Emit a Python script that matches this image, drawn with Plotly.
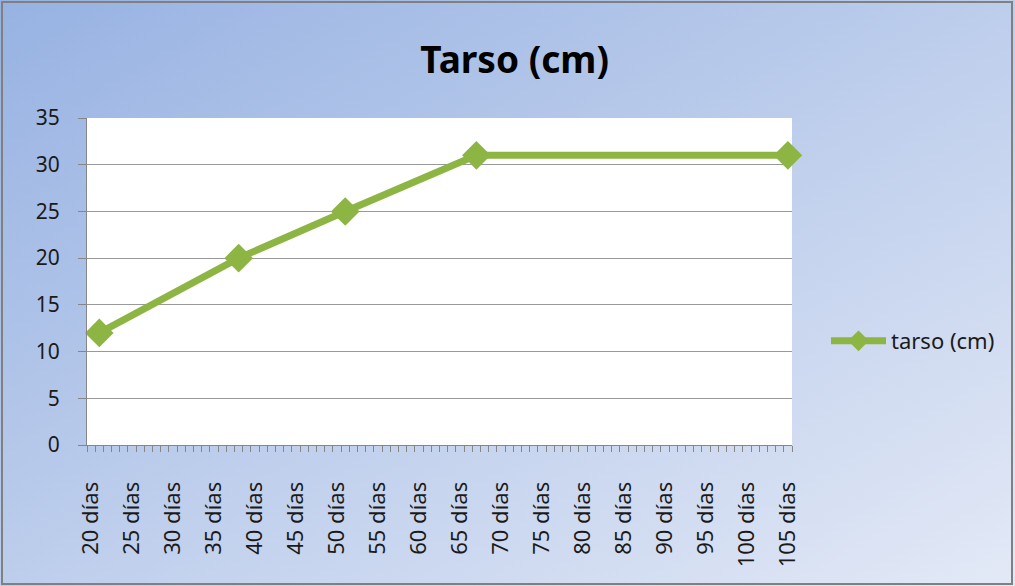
import base64
import plotly.graph_objects as go

# data
dias = [21, 38, 51, 67, 105]
tarso = [12, 20, 25, 31, 31]
serie = "tarso (cm)"
label_dias = list(range(20, 106, 5))
label_text = [f"{d} días" for d in label_dias]
y_ticks = [0, 5, 10, 15, 20, 25, 30, 35]

W, H = 1015, 586
L, R, T, B = 87, 223, 118, 141
pw, ph = W - L - R, H - T - B

def px(x):
    return (x - L) / pw

def py(y):
    return (H - B - y) / ph

green = "#8db543"
font = "Noto Sans"

svg = (
    '<svg xmlns="http://www.w3.org/2000/svg" width="100" height="100" preserveAspectRatio="none" viewBox="0 0 100 100">'
    '<defs><linearGradient id="g" x1="0" y1="0" x2="1" y2="1">'
    '<stop offset="0" stop-color="#97b2e2"/><stop offset="1" stop-color="#e3e9f6"/>'
    '</linearGradient></defs><rect width="100" height="100" fill="url(#g)"/></svg>'
)
bg_src = "data:image/svg+xml;base64," + base64.b64encode(svg.encode()).decode()

fig = go.Figure()
fig.add_trace(go.Scatter(
    x=dias, y=tarso, mode="lines+markers", name=serie,
    line=dict(color=green, width=7),
    marker=dict(symbol="diamond", size=22, color=green),
    cliponaxis=False,
))

fig.update_layout(
    width=W, height=H,
    margin=dict(l=L, r=R, t=T, b=B),
    paper_bgcolor="#c4d2ee",
    plot_bgcolor="white",
    title=dict(text="<b>Tarso (cm)</b>", x=0.507, xref="container", xanchor="center",
               y=1 - 60 / H, yref="container", yanchor="middle",
               font=dict(family=font, size=37, color="black")),
    font=dict(family=font, size=22, color="#1a1a1a"),
    showlegend=True,
    legend=dict(x=px(826), y=py(341), xanchor="left", yanchor="middle",
                bgcolor="rgba(0,0,0,0)", font=dict(size=22), itemwidth=55),
    images=[dict(source=bg_src, xref="paper", yref="paper",
                 x=px(0), y=py(0), sizex=W / pw, sizey=H / ph,
                 sizing="stretch", layer="below", xanchor="left", yanchor="top")],
    shapes=[
        dict(type="rect", xref="paper", yref="paper", x0=0, x1=1, y0=0, y1=1,
             fillcolor="white", line=dict(width=0), layer="below"),
        dict(type="rect", xref="paper", yref="paper",
             x0=px(2), x1=px(1012), y0=py(584), y1=py(2),
             line=dict(color="#808080", width=2), layer="above"),
    ],
)

fig.update_xaxes(
    range=[19.5, 105.5],
    tickmode="array", tickvals=label_dias, ticktext=label_text,
    tickangle=-90, ticks="", showgrid=False, zeroline=False,
    showline=True, linecolor="#868686", linewidth=1,
    minor=dict(ticks="outside", tick0=19.5, dtick=1, ticklen=6,
               tickcolor="#868686", showgrid=False),
    tickfont=dict(size=22), ticklabelstandoff=27,
)
fig.update_yaxes(
    range=[0, 35], tickvals=y_ticks,
    ticks="outside", ticklen=8, tickcolor="#868686",
    showgrid=True, gridcolor="#999999", gridwidth=1,
    zeroline=False, showline=True, linecolor="#868686", linewidth=1,
    tickfont=dict(size=21), ticklabelstandoff=14,
)

fig.write_html("out.html", config={"displayModeBar": False},
               post_script="document.body.style.margin='0';")
